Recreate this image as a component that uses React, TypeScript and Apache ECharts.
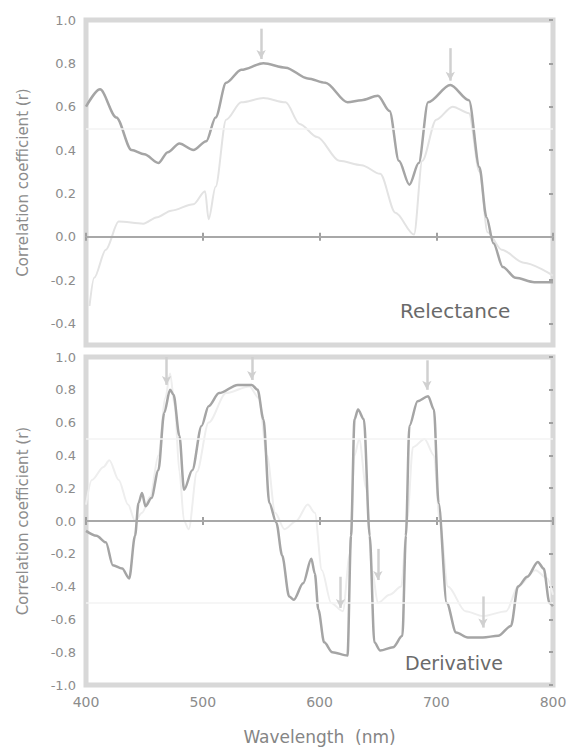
import React, { useEffect, useRef } from "react";
import * as echarts from "echarts";

// Reflectance panel (top)
const wlTopDark = [400, 412, 426, 439, 450, 462, 470, 480, 492, 503, 511, 520, 533, 552, 571, 590, 605, 624, 636, 650, 660, 668, 677, 685, 693, 712, 728, 737, 743, 749, 757, 768, 784, 800];
const rTopDark = [0.6, 0.68, 0.55, 0.4, 0.38, 0.34, 0.39, 0.43, 0.4, 0.44, 0.55, 0.71, 0.77, 0.8, 0.78, 0.73, 0.71, 0.62, 0.63, 0.65, 0.58, 0.35, 0.24, 0.34, 0.62, 0.7, 0.63, 0.32, 0.09, -0.03, -0.14, -0.19, -0.21, -0.21];
const wlTopLight = [403, 407, 417, 428, 449, 461, 473, 492, 502, 505, 511, 520, 533, 552, 571, 583, 598, 617, 636, 652, 665, 681, 688, 700, 714, 728, 737, 744, 756, 775, 800];
const rTopLight = [-0.32, -0.19, -0.06, 0.07, 0.06, 0.09, 0.12, 0.15, 0.21, 0.08, 0.23, 0.54, 0.62, 0.64, 0.62, 0.52, 0.46, 0.35, 0.33, 0.29, 0.11, 0.01, 0.35, 0.54, 0.6, 0.57, 0.3, 0.02, -0.06, -0.12, -0.18];

// Derivative panel (bottom)
const wlBotDark = [400, 409, 417, 423, 431, 437, 442, 445, 448, 451, 456, 462, 467, 472, 475, 480, 484, 491, 499, 505, 514, 530, 542, 547, 552, 557, 563, 568, 574, 578, 586, 593, 596, 599, 604, 611, 624, 627, 630, 633, 638, 643, 647, 652, 663, 671, 674, 677, 684, 693, 698, 702, 709, 717, 727, 740, 753, 764, 770, 778, 787, 792, 797, 800];
const rBotDark = [-0.06, -0.09, -0.13, -0.27, -0.29, -0.35, -0.09, 0.11, 0.17, 0.09, 0.14, 0.31, 0.66, 0.8, 0.77, 0.52, 0.19, 0.31, 0.58, 0.7, 0.78, 0.83, 0.83, 0.8, 0.62, 0.11, -0.01, -0.21, -0.46, -0.48, -0.38, -0.23, -0.32, -0.54, -0.74, -0.8, -0.82, -0.09, 0.62, 0.68, 0.62, -0.09, -0.74, -0.79, -0.77, -0.7, -0.09, 0.58, 0.73, 0.76, 0.68, 0.11, -0.5, -0.68, -0.71, -0.71, -0.7, -0.64, -0.4, -0.34, -0.25, -0.29, -0.5, -0.52];
const wlBotLight = [400, 405, 415, 420, 428, 436, 442, 448, 455, 462, 468, 472, 476, 480, 484, 488, 495, 505, 520, 540, 548, 555, 562, 570, 580, 590, 596, 602, 610, 620, 626, 630, 634, 640, 645, 650, 660, 670, 675, 680, 690, 698, 703, 710, 725, 740, 760, 770, 785, 795, 800];
const rBotLight = [0.1, 0.25, 0.33, 0.37, 0.25, 0.1, 0.0, 0.05, 0.15, 0.4, 0.75, 0.9, 0.7, 0.3, 0.0, -0.05, 0.3, 0.6, 0.78, 0.82, 0.75, 0.4, 0.05, -0.05, 0.0, 0.1, 0.05, -0.3, -0.5, -0.55, -0.2, 0.4, 0.5, 0.2, -0.3, -0.5, -0.45, -0.4, 0.0, 0.45, 0.5, 0.4, 0.0, -0.4, -0.55, -0.58, -0.55, -0.4, -0.3, -0.35, -0.45];

// Arrows: [wavelength, start r, end r]
const arrowsTop = [[550, 0.96, 0.82], [712, 0.87, 0.72]];
const arrowsBot = [[469, 1.0, 0.83], [542, 1.0, 0.86], [692, 0.98, 0.8], [618, -0.34, -0.53], [650, -0.17, -0.36], [740, -0.46, -0.65]];

const xTicks = [400, 500, 600, 700, 800];
const yTicksTop = [-0.4, -0.2, 0.0, 0.2, 0.4, 0.6, 0.8, 1.0];

const pair = (xs: number[], ys: number[]) => xs.map((x, i) => [x, ys[i]]);

const FONT = "DejaVu Sans";
const LABEL = "#8c8c8c";

export default function App() {
  const ref = useRef<HTMLDivElement>(null);
  useEffect(() => {
    const chart = echarts.init(ref.current!, undefined, { renderer: "svg" });
    const gridStyle = { show: true, borderColor: "#d8d8d8", borderWidth: 5, backgroundColor: "transparent" };
    const tickStyle = { color: "#a0a0a0", width: 2 };
    const xBase = (gi: number, labels: boolean) => ({
      type: "value",
      gridIndex: gi,
      min: 400,
      max: 800,
      interval: 100,
      axisLine: { show: false },
      axisTick: { show: true, inside: true, length: 4, lineStyle: tickStyle },
      axisLabel: { show: labels, color: LABEL, fontFamily: FONT, fontSize: 14, margin: 10, customValues: xTicks },
      splitLine: { show: false },
    });
    const xTop = (gi: number) => ({
      type: "value",
      gridIndex: gi,
      position: "top",
      min: 400,
      max: 800,
      interval: 100,
      axisLine: { show: false },
      axisTick: { show: true, inside: true, length: 4, lineStyle: tickStyle },
      axisLabel: { show: false },
      splitLine: { show: false },
    });
    const arrowLine = (arr: number[][]) =>
      arr.map((a) => [
        { coord: [a[0], a[1]], symbol: "none" },
        { coord: [a[0], a[2]], symbol: "arrow" },
      ]);
    const refLines = (vals: number[], color: string, width: number) =>
      vals.map((v) => ({ yAxis: v, lineStyle: { color, width, type: "solid" } }));
    const yTitle = {
      name: "Correlation coefficient (r)",
      nameLocation: "middle",
      nameGap: 56,
      nameTextStyle: { color: LABEL, fontFamily: FONT, fontSize: 15 },
    };
    const yLabel = {
      color: LABEL,
      fontFamily: FONT,
      fontSize: 13,
      margin: 10,
      formatter: (v: number) => v.toFixed(1),
    };

    chart.setOption({
      animation: false,
      backgroundColor: "#ffffff",
      grid: [
        { left: 86, top: 20, width: 467, height: 325, ...gridStyle },
        { left: 86, top: 357, width: 467, height: 328, ...gridStyle },
      ],
      xAxis: [
        xBase(0, false),
        {
          ...xBase(1, true),
          name: "Wavelength  (nm)",
          nameLocation: "middle",
          nameGap: 43,
          nameTextStyle: { color: "#858585", fontFamily: FONT, fontSize: 17 },
        },
        xTop(0),
        xTop(1),
      ],
      yAxis: [
        {
          type: "value",
          gridIndex: 0,
          min: -0.5,
          max: 1.0,
          axisLine: { show: false },
          axisTick: { show: false },
          splitLine: { show: false },
          axisLabel: { ...yLabel, customValues: yTicksTop },
          ...yTitle,
        },
        {
          type: "value",
          gridIndex: 1,
          min: -1.0,
          max: 1.0,
          interval: 0.2,
          axisLine: { show: false },
          axisTick: { show: false },
          splitLine: { show: false },
          axisLabel: yLabel,
          ...yTitle,
        },
        {
          type: "value",
          gridIndex: 0,
          position: "right",
          min: -0.5,
          max: 1.0,
          axisLine: { show: false },
          axisTick: { show: true, inside: true, length: 4, customValues: yTicksTop, lineStyle: tickStyle },
          axisLabel: { show: false },
          splitLine: { show: false },
        },
        {
          type: "value",
          gridIndex: 1,
          position: "right",
          min: -1.0,
          max: 1.0,
          interval: 0.2,
          axisLine: { show: false },
          axisTick: { show: true, inside: true, length: 4, lineStyle: tickStyle },
          axisLabel: { show: false },
          splitLine: { show: false },
        },
      ],
      series: [
        {
          type: "line",
          xAxisIndex: 0,
          yAxisIndex: 0,
          data: pair(wlTopLight, rTopLight),
          showSymbol: false,
          smooth: 0.3,
          smoothMonotone: "x",
          lineStyle: { color: "#e3e3e3", width: 2 },
          silent: true,
          markLine: {
            silent: true,
            symbol: "none",
            label: { show: false },
            data: [...refLines([0.5], "#f3f3f3", 1.5), ...refLines([0], "#a8a8a8", 2)],
          },
        },
        {
          type: "line",
          xAxisIndex: 0,
          yAxisIndex: 0,
          data: pair(wlTopDark, rTopDark),
          showSymbol: false,
          smooth: 0.3,
          smoothMonotone: "x",
          lineStyle: { color: "#a5a5a5", width: 2.5 },
          silent: true,
          markLine: {
            silent: true,
            symbolSize: [7, 9],
            label: { show: false },
            lineStyle: { color: "#d0d0d0", width: 2.5, type: "solid" },
            data: arrowLine(arrowsTop),
          },
        },
        {
          type: "line",
          xAxisIndex: 1,
          yAxisIndex: 1,
          data: pair(wlBotLight, rBotLight),
          showSymbol: false,
          smooth: 0.3,
          smoothMonotone: "x",
          lineStyle: { color: "#eeeeee", width: 2 },
          silent: true,
          markLine: {
            silent: true,
            symbol: "none",
            label: { show: false },
            data: [...refLines([0.5, -0.5], "#f3f3f3", 1.5), ...refLines([0], "#a8a8a8", 2)],
          },
        },
        {
          type: "line",
          xAxisIndex: 1,
          yAxisIndex: 1,
          data: pair(wlBotDark, rBotDark),
          showSymbol: false,
          smooth: 0.3,
          smoothMonotone: "x",
          lineStyle: { color: "#a5a5a5", width: 2.5 },
          silent: true,
          markLine: {
            silent: true,
            symbolSize: [7, 9],
            label: { show: false },
            lineStyle: { color: "#d0d0d0", width: 2.5, type: "solid" },
            data: arrowLine(arrowsBot),
          },
        },
      ],
      graphic: [
        {
          type: "text",
          left: 400,
          top: 301,
          style: { text: "Relectance", fill: "#6a6a6a", font: `20px "${FONT}"` },
        },
        {
          type: "text",
          left: 405,
          top: 653,
          style: { text: "Derivative", fill: "#6a6a6a", font: `19px "${FONT}"` },
        },
      ],
    });
    return () => chart.dispose();
  }, []);
  return (
    <div
      ref={ref}
      style={{ position: "fixed", left: 0, top: 0, width: 571, height: 750, background: "#fff" }}
    />
  );
}
